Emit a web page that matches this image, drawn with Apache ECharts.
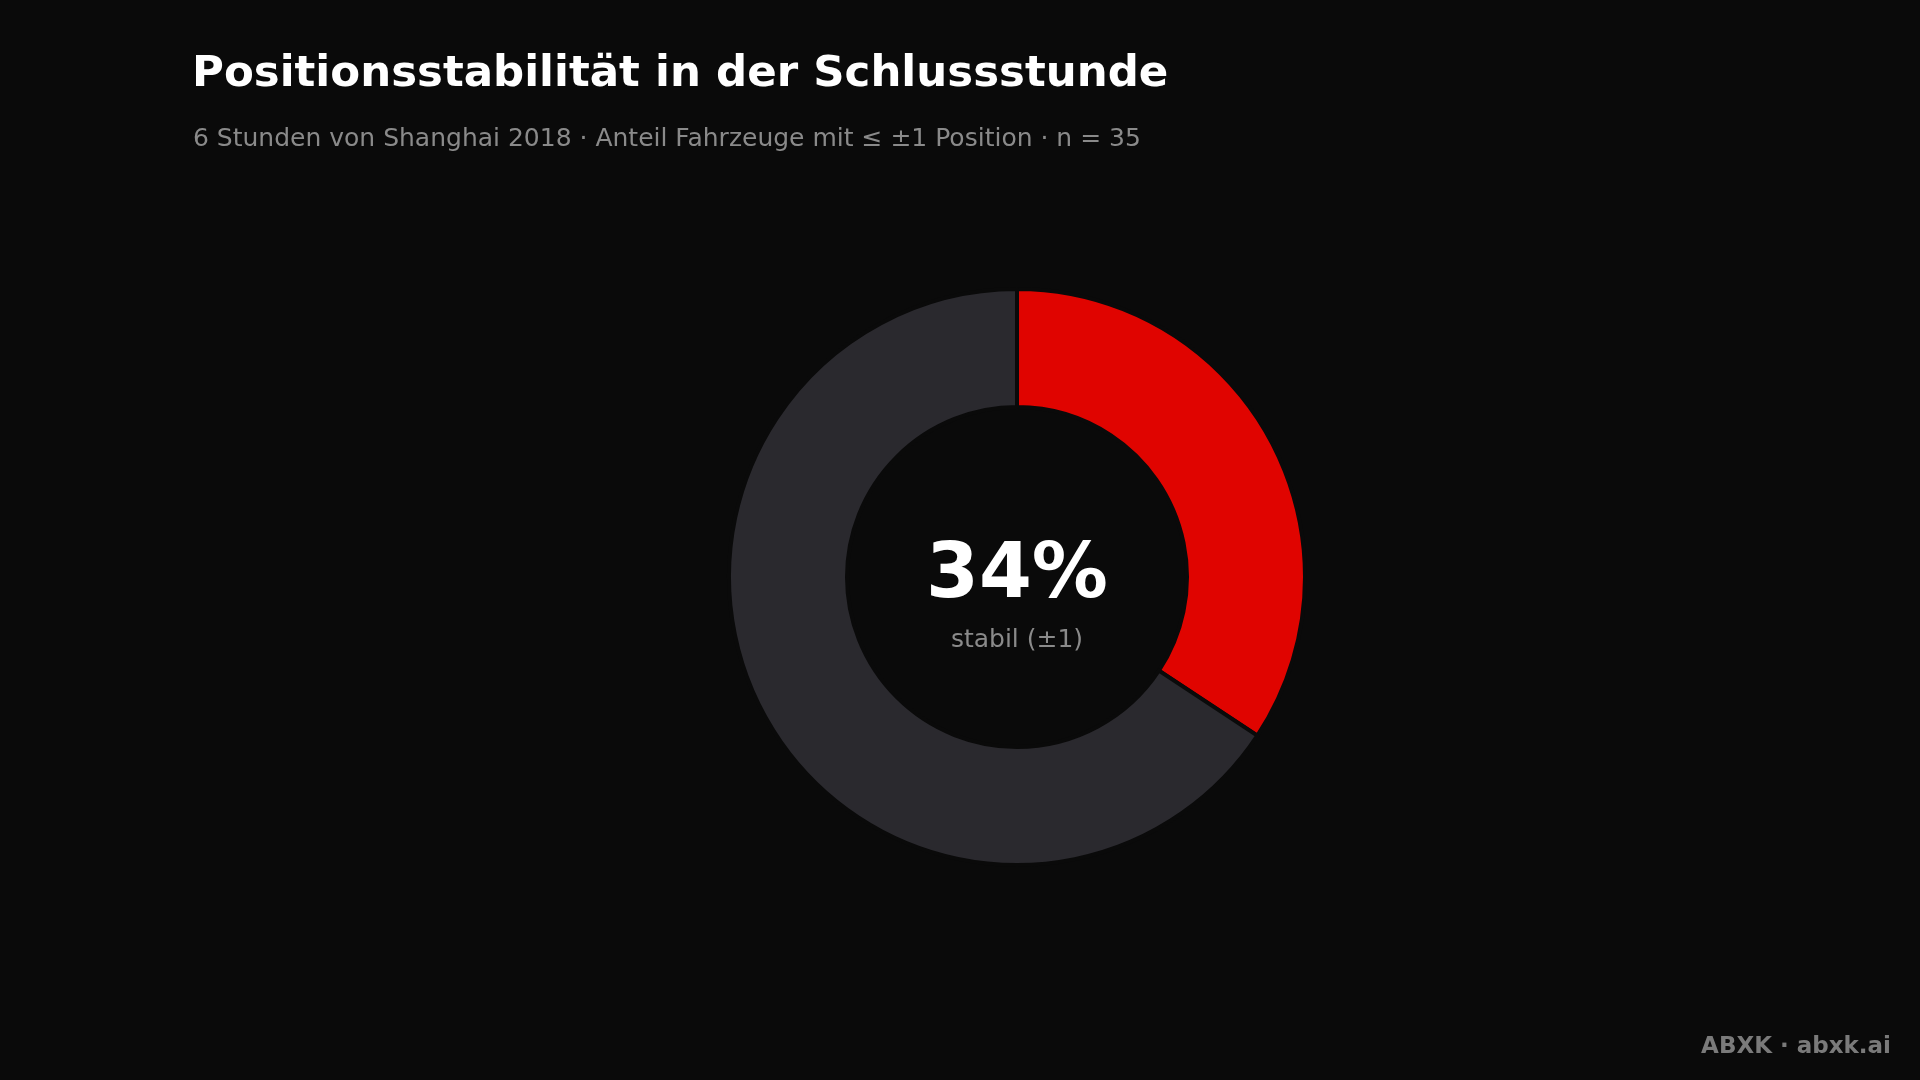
<!DOCTYPE html>
<html><head><meta charset="utf-8">
<script src="https://cdn.jsdelivr.net/npm/echarts@6/dist/echarts.min.js"></script>
<style>html,body{margin:0;background:#0a0a0a}#c{width:1920px;height:1080px}</style>
</head><body><div id="c"></div>
<script>
const categories = ['stabil (±1)', 'verändert'];
const values = [12, 23];
const colors = ['#e00400', '#2a292e'];
const pctLabel = '34%';

const chart = echarts.init(document.getElementById('c'));
chart.setOption({
  backgroundColor: '#0a0a0a',
  title: [
    {text: 'Positionsstabilität in der Schlussstunde', left: 187, top: 48,
     textStyle: {color: '#ffffff', fontSize: 43.5, fontWeight: 'bold', fontFamily: 'DejaVu Sans'}},
    {text: '6 Stunden von Shanghai 2018 · Anteil Fahrzeuge mit ≤ ±1 Position · n = 35', left: 188, top: 122,
     textStyle: {color: '#8a8a8a', fontSize: 25, fontWeight: 'normal', fontFamily: 'DejaVu Sans'}}
  ],
  graphic: [
    {type: 'text', x: 1017, y: 577, style: {text: pctLabel, fill: '#ffffff', font: 'bold 76px DejaVu Sans', textAlign: 'center', textVerticalAlign: 'middle'}},
    {type: 'text', x: 1017, y: 640, style: {text: 'stabil (±1)', fill: '#8a8a8a', font: '25px DejaVu Sans', textAlign: 'center', textVerticalAlign: 'middle'}},
    {type: 'text', right: 29, bottom: 21, style: {text: 'ABXK · abxk.ai', fill: '#7a7a7a', font: 'bold 23px DejaVu Sans'}}
  ],
  series: [{
    type: 'pie', center: [1017, 577], radius: [170, 288], startAngle: 90, clockwise: true,
    label: {show: false}, emphasis: {disabled: true},
    itemStyle: {borderColor: '#0a0a0a', borderWidth: 4},
    data: categories.map((n, i) => ({name: n, value: values[i], itemStyle: {color: colors[i]}}))
  }]
});
</script></body></html>
